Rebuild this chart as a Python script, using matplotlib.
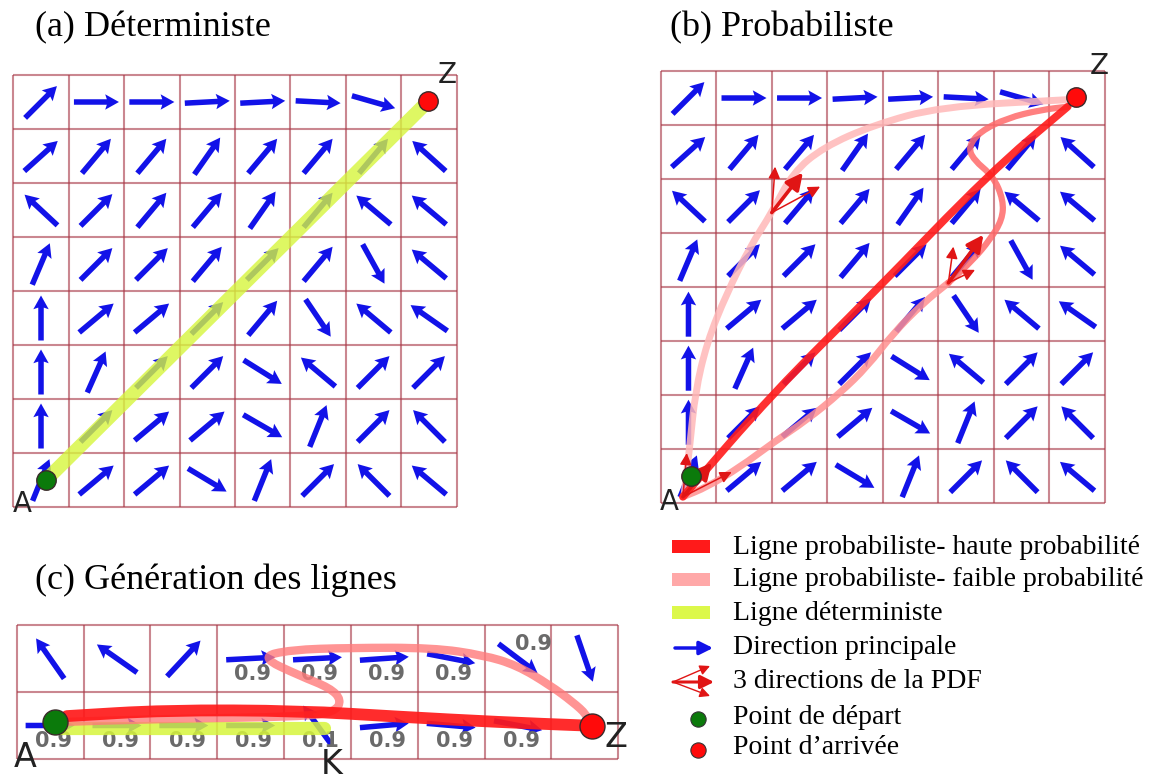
import numpy as np
import matplotlib
matplotlib.use('Agg')
import matplotlib.pyplot as plt
from matplotlib.path import Path
from matplotlib.patches import PathPatch, Rectangle

W, H = 1151, 780

# direction field (degrees, 0 = right, 90 = up), rows top -> bottom
DIR_AB = np.array([
    [45, 0, 0, 3, 3, -3, -16, np.nan],
    [42, 50, 50, 55, 50, 50, 50, 138],
    [137, 45, 50, 50, 55, 50, 140, 140],
    [67, 45, 45, 50, 45, 50, -61, 140],
    [90, 40, 40, 45, 50, -56, 140, 145],
    [90, 66, 45, 45, -32, 140, 45, 45],
    [90, 45, 40, 40, -30, 68, 45, 135],
    [68, 40, 40, -31, 68, 45, 135, 140],
])
DIR_C = np.array([
    [125, 145, 47, 3, 3, 4, -11, -37, -71],
    [0, 0, 0, 0, 126, 5, -5, -11, np.nan],
])
PROB_C_TOP = ['', '', '', '0.9', '0.9', '0.9', '0.9', '0.9', '']
PROB_C_BOTTOM = ['0.9', '0.9', '0.9', '0.9', '0.1', '0.9', '0.9', '0.9', '']

# points (grid cell units, origin bottom-left)
A_a, Z_a = (0.59, 0.5), (7.49, 7.52)
A_b, Z_b = (0.55, 0.5), (7.47, 7.52)
A_c, Z_c = (0.57, 0.55), (8.60, 0.50)

# line paths
HIGH_B = [(7.33, 7.34), (5.93, 6.12), (3.83, 3.89), (2.02, 2.04), (0.40, 0.12)]
LOW_B_LEFT = [(7.33, 7.47), (5.03, 7.34), (3.83, 7.0), (2.93, 6.59), (2.38, 6.12),
              (2.0, 5.38), (1.61, 4.75), (1.19, 3.89), (0.83, 2.97), (0.62, 2.04),
              (0.53, 1.12), (0.42, 0.15)]
MID_B_S = [(7.33, 7.34), (6.84, 7.28), (6.24, 7.13), (5.75, 6.88), (5.54, 6.60),
           (5.63, 6.36), (5.99, 6.05), (6.17, 5.61), (6.15, 5.25), (5.93, 4.88),
           (5.63, 4.51), (5.18, 4.08)]
LOW_B_RIGHT = [(5.18, 4.08), (4.73, 3.71), (4.19, 3.15), (3.72, 2.53), (3.23, 2.04),
               (2.63, 1.54), (2.02, 1.12), (1.43, 0.67), (0.83, 0.30), (0.40, 0.12)]
PDF_B = [
    ((2.0, 5.38), [(2.06, 6.23), (2.56, 6.12), (2.87, 5.86)]),
    ((5.18, 4.08), [(5.27, 4.75), (5.81, 4.97), (5.66, 4.32)]),
    ((0.40, 0.12), [(0.47, 0.93), (0.92, 0.75), (1.28, 0.58)]),
]
DET_C = [(0.57, 0.46), (4.59, 0.46)]
HIGH_C = [(0.75, 0.64), (2.24, 0.73), (4.24, 0.72), (5.73, 0.63), (7.23, 0.55), (8.5, 0.5)]
LOW_C = [(0.57, 0.55), (2.24, 0.60), (4.24, 0.63), (4.76, 0.70), (4.86, 0.88),
         (4.69, 1.06), (4.24, 1.24), (3.64, 1.52), (4.09, 1.63), (4.99, 1.66),
         (6.23, 1.66), (6.98, 1.55), (7.48, 1.40), (7.98, 1.10), (8.32, 0.85),
         (8.53, 0.66), (8.60, 0.49)]

LEGEND = ['Ligne probabiliste- haute probabilité',
          'Ligne probabiliste- faible probabilité',
          'Ligne déterministe',
          'Direction principale',
          '3 directions de la PDF',
          'Point de départ',
          "Point d\u2019arrivée"]

BLUE = '#1212e8'
RED = '#ff1a1a'
PINK = '#ffa8a8'
YELLOW = '#d6f53c'
SERIF = 'Liberation Serif'

fig = plt.figure(figsize=(W / 100, H / 100), dpi=100)

ax0 = fig.add_axes([0, 0, 1, 1])
ax0.set_xlim(0, W)
ax0.set_ylim(H, 0)
ax0.axis('off')


def panel(box, ncol, nrow, pad=1.0):
    l, t, r, b = box
    cw, ch = (r - l) / ncol, (b - t) / nrow
    ax = fig.add_axes([(l - pad * cw) / W, 1 - (b + pad * ch) / H,
                       (r - l + 2 * pad * cw) / W, (b - t + 2 * pad * ch) / H])
    ax.set_xlim(-pad, ncol + pad)
    ax.set_ylim(-pad, nrow + pad)
    ax.axis('off')
    ax.vlines(np.arange(ncol + 1), 0, nrow, color='#a83846', alpha=0.6, lw=1.5, zorder=1)
    ax.hlines(np.arange(nrow + 1), 0, ncol, color='#a83846', alpha=0.6, lw=1.5, zorder=1)
    return ax


def field(ax, dirs, length=45):
    nrow, ncol = dirs.shape
    cols, rows = np.meshgrid(np.arange(ncol), np.arange(nrow))
    ok = ~np.isnan(dirs)
    ang = np.deg2rad(dirs[ok])
    ax.quiver(cols[ok] + 0.5, nrow - rows[ok] - 0.5,
              length * np.cos(ang), length * np.sin(ang),
              angles='uv', scale_units='dots', scale=1, units='dots',
              width=5.5, headwidth=2.8, headlength=2.5, headaxislength=2.2,
              pivot='middle', color=BLUE, zorder=2)


def smooth(pts):
    pts = np.asarray(pts, float)
    if len(pts) == 2:
        return Path(pts, [Path.MOVETO, Path.LINETO])
    mids = (pts[:-1] + pts[1:]) / 2
    verts, codes = [pts[0], mids[0]], [Path.MOVETO, Path.LINETO]
    for i in range(1, len(pts) - 1):
        verts += [pts[i], mids[i]]
        codes += [Path.CURVE3, Path.CURVE3]
    verts.append(pts[-1])
    codes.append(Path.LINETO)
    return Path(verts, codes)


def line(ax, pts, color, lw, alpha=1.0, z=3):
    ax.add_patch(PathPatch(smooth(pts), fill=False, edgecolor=color, lw=lw,
                           alpha=alpha, capstyle='round', joinstyle='round', zorder=z))


def dot(ax, p, color, ms):
    ax.plot(*p, 'o', ms=ms, mfc=color, mec='#3a2a2a', mew=1, zorder=6)


def label(ax, p, s, size=20):
    ax.text(*p, s, fontsize=size, color='#222222', ha='center', va='center',
            family='DejaVu Sans', zorder=7)


def pdf(ax, base, tips):
    for i, tip in enumerate(tips):
        strong = i == 1
        ax.annotate('', xy=tip, xytext=base, zorder=5,
                    arrowprops=dict(arrowstyle='-|>,head_length=0.5,head_width=0.25',
                                    color='#e01515', lw=2.6 if strong else 1.1,
                                    mutation_scale=20 if strong else 14,
                                    shrinkA=0, shrinkB=0))


# (a) deterministic
axa = panel((13.3, 75, 456.7, 507), 8, 8)
field(axa, DIR_AB)
line(axa, [A_a, Z_a], YELLOW, 10, alpha=0.8)
dot(axa, A_a, '#0b7a0b', 14)
dot(axa, Z_a, '#ff0a0a', 14)
label(axa, (0.16, 0.05), 'A')
label(axa, (7.83, 8.0), 'Z')

# (b) probabilistic
axb = panel((660.7, 71, 1105, 503.3), 8, 8)
field(axb, DIR_AB)
dot(axb, A_b, '#0b7a0b', 14)
line(axb, LOW_B_LEFT, '#ffb8b8', 5, alpha=0.85)
line(axb, LOW_B_RIGHT, '#ff9090', 5, alpha=0.85)
line(axb, MID_B_S, '#ff6a6a', 4.5, alpha=0.85)
line(axb, HIGH_B, RED, 5.5, alpha=0.9, z=4)
for base, tips in PDF_B:
    pdf(axb, base, tips)
dot(axb, Z_b, '#ff0a0a', 14)
label(axb, (0.15, 0.02), 'A')
label(axb, (7.9, 8.1), 'Z')

# (c) line generation
axc = panel((16.7, 625, 618.3, 759), 9, 2)
field(axc, DIR_C, length=49)
for j, s in enumerate(PROB_C_TOP):
    if s:
        yy = 1.71 if j == 7 else 1.27
        xx = 7.73 if j == 7 else j + 0.53
        axc.text(xx, yy, s, fontsize=15, fontweight='bold', color='#6a6a6a',
                 ha='center', va='center', zorder=2.5)
for j, s in enumerate(PROB_C_BOTTOM):
    if s:
        axc.text(j + 0.55, 0.27, s, fontsize=15, fontweight='bold', color='#6a6a6a',
                 ha='center', va='center', zorder=2.5)
line(axc, DET_C, YELLOW, 9.5, alpha=0.85)
line(axc, LOW_C, '#ff7a7a', 6, alpha=0.8)
line(axc, HIGH_C, RED, 8.5, alpha=0.92, z=4)
dot(axc, A_c, '#0b7a0b', 18)
dot(axc, Z_c, '#ff0a0a', 18)
label(axc, (0.12, 0.02), 'A', 24)
label(axc, (4.71, -0.08), 'K', 24)
label(axc, (8.97, 0.32), 'Z', 24)

# titles
ax0.text(35, 28, '(a) Déterministe', family=SERIF, fontsize=26, va='center', ha='left')
ax0.text(670, 28, '(b) Probabiliste', family=SERIF, fontsize=26, va='center', ha='left')
ax0.text(35, 580, '(c) Génération des lignes', family=SERIF, fontsize=26, va='center', ha='left')

# legend
ys = [547, 580, 613, 648, 682, 717, 748]
for s, y in zip(LEGEND, ys):
    ax0.text(733, y, s, family=SERIF, fontsize=20, va='center', ha='left')
for c, y in zip([RED, PINK, '#dcf84a'], ys[:3]):
    ax0.add_patch(Rectangle((672, y - 7), 38, 13, color=c, lw=0))
ax0.annotate('', xy=(713, ys[3]), xytext=(675, ys[3]),
             arrowprops=dict(arrowstyle='-|>,head_length=0.5,head_width=0.25', color=BLUE,
                             lw=2.5, mutation_scale=16, shrinkA=0, shrinkB=0))
for k, dy in enumerate([-16, 0, 14]):
    ax0.annotate('', xy=(710 if k != 1 else 714, ys[4] + dy), xytext=(673, ys[4]),
                 arrowprops=dict(arrowstyle='-|>,head_length=0.5,head_width=0.25',
                                 color='#e01515', lw=2.2 if k == 1 else 1.0,
                                 mutation_scale=16 if k == 1 else 12,
                                 shrinkA=0, shrinkB=0))
ax0.plot(698, ys[5] + 2, 'o', ms=11, mfc='#0b7a0b', mec='#333333', mew=0.8)
ax0.plot(698, ys[6] + 2, 'o', ms=11, mfc='#ff0a0a', mec='#333333', mew=0.8)

fig.savefig('out.png', dpi=100)
